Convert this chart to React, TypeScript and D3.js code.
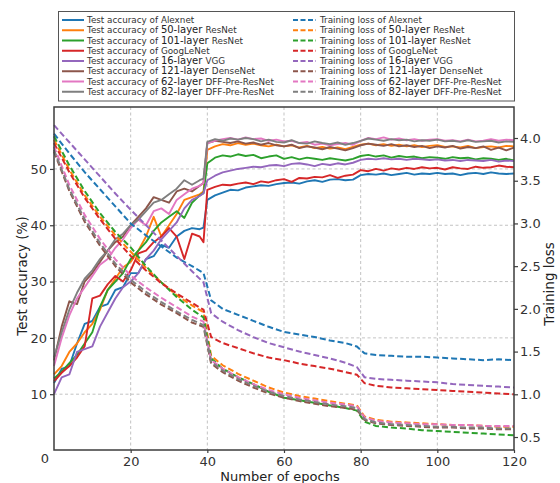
import React, { useEffect, useRef } from "react";
import * as d3 from "d3";

// model names are split so the "N-layer" part can be drawn a bit larger, like the original legend
const modelLayers = ["", "50-layer", "101-layer", "", "16-layer", "121-layer", "62-layer", "82-layer"];
const modelNames = ["Alexnet", "ResNet", "ResNet", "GoogLeNet", "VGG", "DenseNet", "DFF-Pre-ResNet", "DFF-Pre-ResNet"];
const colors = ["#1f77b4", "#ff7f0e", "#2ca02c", "#d62728", "#9467bd", "#8c564b", "#e377c2", "#7f7f7f"];

const xTicks = [20, 40, 60, 80, 100, 120];
const accTicks = [10, 20, 30, 40, 50];
const lossTicks = [0.5, 1.0, 1.5, 2.0, 2.5, 3.0, 3.5, 4.0];

const accEpochs = [...d3.range(0, 40, 2), 39, ...d3.range(40, 121, 2)];
const lossEpochs = [...d3.range(0, 40, 4), 39, 41, ...d3.range(44, 80, 4), 79, 81, ...d3.range(84, 121, 4)];

// test accuracy (%)
const accAlexnet = [12, 14.5, 15, 19, 22.5, 23, 25.5, 26, 28.5, 29, 31.5, 31.5, 34, 34.5, 36.5, 36, 38, 39, 39.5, 39.3, 39.6,
  44.5, 45.3, 45.8, 46.3, 46.2, 46.7, 46.9, 47.1, 47.0, 47.3,
  47.5, 47.6, 47.4, 47.8, 48.0, 47.7, 48.1, 48.2, 48.0, 48.1,
  48.9, 49.1, 49.0, 49.2, 48.9, 49.1, 49.3, 49.0, 49.2, 49.1,
  49.3, 49.1, 49.2, 48.9, 49.2, 49.3, 49.1, 49.4, 49.2, 49.1, 49.2];
const accResNet50 = [13.5, 15, 17.5, 19, 21, 22.5, 25, 28.5, 30.5, 32.5, 33.5, 35.5, 38, 41.5, 38, 40, 42, 44.5, 45, 45.5, 46,
  53.4, 54.0, 54.4, 54.2, 54.6, 54.3, 54.5, 54.2, 54.0, 54.3,
  54.0, 54.2, 53.8, 54.1, 53.7, 53.9, 53.6, 53.8, 53.5, 53.9,
  54.3, 54.5, 54.2, 54.4, 54.1, 54.3, 54.0, 54.2, 53.9, 54.1,
  54.2, 53.9, 54.0, 53.8, 54.1, 53.7, 53.9, 54.0, 53.8, 54.1, 54.0];
const accResNet101 = [12.8, 14, 15.5, 17, 19, 21, 25.5, 28.5, 30, 31.5, 34, 35.5, 37, 39, 40.5, 41.5, 42.5, 41.3, 44, 45.3, 45.7,
  51.0, 52.0, 52.4, 52.2, 52.6, 52.3, 52.5, 51.9, 52.2, 52.4,
  51.8, 52.1, 51.7, 52.0, 51.8, 51.6, 51.9, 51.7, 51.5, 51.8,
  52.3, 52.5, 52.2, 52.4, 52.0, 52.3, 52.1, 52.2, 51.9, 52.1,
  52.0, 51.8, 52.1, 51.9, 52.0, 51.7, 51.9, 51.8, 51.6, 51.8, 51.5];
const accGoogLeNet = [12.3, 13.8, 15, 16.5, 18.5, 27, 27.5, 29.5, 31, 30, 32, 35, 35.5, 37, 38, 39.5, 38, 34, 38.5, 38, 37,
  46.3, 46.8, 47.2, 47.1, 47.4, 47.6, 47.3, 47.8, 47.6, 48.0,
  48.2, 47.7, 48.4, 48.3, 48.6, 48.5, 48.9, 48.4, 48.8, 49.0,
  49.8, 49.6, 50.0, 49.7, 50.1, 49.9, 50.2, 50.0, 50.3, 50.1,
  50.2, 49.9, 50.3, 50.1, 50.0, 50.4, 50.2, 50.3, 50.6, 50.4, 50.3];
const accVGG = [10, 13, 13.5, 17.5, 18, 18.5, 22, 24.5, 27, 29, 30, 31.5, 34, 35.5, 37.5, 39, 40.5, 43, 44.5, 45.2, 45.7,
  48.0, 48.8, 49.4, 49.7, 50.0, 50.2, 50.4, 50.3, 50.6, 50.7,
  50.5, 50.9, 51.0, 50.8, 50.5, 50.9, 50.7, 51.0, 50.8, 51.1,
  51.6, 51.8, 51.7, 51.9, 51.7, 51.8, 51.6, 51.8, 51.7, 51.6,
  51.7, 51.5, 51.6, 51.4, 51.6, 51.5, 51.4, 51.6, 51.3, 51.5, 51.4];
const accDenseNet = [16, 22, 26.5, 26, 30, 31.5, 33.5, 35.5, 37, 38, 40, 41.5, 43, 45, 44.5, 44, 46, 46.5, 46, 47, 47.5,
  54.6, 55.0, 54.8, 54.6, 54.9, 54.5, 54.7, 54.3, 54.6, 54.2,
  54.0, 54.3, 53.7, 54.0, 53.8, 53.5, 53.9, 53.6, 53.3, 53.7,
  54.2, 54.5, 54.3, 54.1, 54.4, 54.0, 54.2, 53.9, 54.1, 53.7,
  54.0, 53.8, 54.1, 53.6, 53.9, 53.7, 54.0, 53.4, 53.8, 53.3, 53.8];
const accDff62 = [15, 20, 24, 27, 29, 31, 33, 34, 36, 37.5, 39.5, 41, 40, 42.5, 43, 42, 44.5, 45.5, 46.5, 47, 47.5,
  54.6, 55.0, 55.3, 55.5, 55.2, 55.6, 55.3, 55.4, 55.0, 55.2,
  54.9, 55.0, 54.6, 54.8, 54.3, 54.5, 54.2, 54.4, 54.6, 54.3,
  55.0, 55.5, 55.3, 55.6, 55.2, 55.4, 55.1, 55.3, 55.0, 55.2,
  55.3, 55.0, 55.1, 54.9, 55.2, 54.9, 55.0, 55.3, 55.0, 55.2, 55.1];
const accDff82 = [16.5, 21, 25, 28, 30.5, 32, 34, 35.5, 37.5, 38.5, 40, 41, 42.5, 44, 44.5, 45.5, 46.5, 48, 47.2, 48, 48.3,
  54.8, 55.3, 55.0, 55.4, 55.2, 55.5, 55.3, 54.9, 55.2, 54.8,
  54.7, 55.1, 54.6, 54.5, 54.9, 54.6, 54.4, 54.7, 54.3, 54.6,
  55.0, 55.4, 55.2, 55.0, 55.3, 55.1, 55.2, 54.9, 55.1, 55.0,
  55.2, 54.9, 55.0, 54.8, 55.1, 54.8, 54.9, 55.0, 54.7, 54.9, 54.8];

// training loss
const lossAlexnet = [4.05, 3.82, 3.6, 3.4, 3.2, 3.0, 2.86, 2.73, 2.6, 2.5, 2.42, 2.1,
  2.0, 1.93, 1.86, 1.79, 1.73, 1.7, 1.67, 1.63, 1.6, 1.56, 1.48,
  1.46, 1.45, 1.44, 1.44, 1.43, 1.42, 1.41, 1.40, 1.41, 1.40];
const lossResNet50 = [3.98, 3.63, 3.33, 3.08, 2.86, 2.67, 2.48, 2.31, 2.16, 2.04, 1.96, 1.45,
  1.34, 1.24, 1.16, 1.08, 1.02, 0.98, 0.95, 0.92, 0.89, 0.87, 0.74,
  0.7, 0.68, 0.67, 0.66, 0.65, 0.64, 0.64, 0.63, 0.62, 0.62];
const lossResNet101 = [4.02, 3.68, 3.38, 3.12, 2.9, 2.72, 2.5, 2.31, 2.14, 1.99, 1.9, 1.42,
  1.3, 1.2, 1.12, 1.03, 0.96, 0.93, 0.9, 0.87, 0.84, 0.81, 0.68,
  0.63, 0.61, 0.6, 0.58, 0.57, 0.56, 0.55, 0.54, 0.53, 0.52];
const lossGoogLeNet = [3.94, 3.6, 3.3, 3.05, 2.82, 2.62, 2.45, 2.3, 2.18, 2.07, 1.99, 1.67,
  1.6, 1.54, 1.48, 1.43, 1.4, 1.36, 1.33, 1.3, 1.26, 1.23, 1.13,
  1.1, 1.08, 1.07, 1.06, 1.05, 1.04, 1.03, 1.02, 1.01, 1.0];
const lossVGG = [4.15, 3.95, 3.75, 3.55, 3.35, 3.16, 2.98, 2.8, 2.62, 2.44, 2.31, 1.95,
  1.85, 1.75, 1.67, 1.6, 1.55, 1.5, 1.46, 1.42, 1.37, 1.32, 1.2,
  1.18, 1.17, 1.16, 1.15, 1.14, 1.12, 1.11, 1.10, 1.09, 1.08];
const lossDenseNet = [3.84, 3.38, 3.02, 2.74, 2.5, 2.31, 2.17, 2.05, 1.95, 1.84, 1.79, 1.36,
  1.26, 1.16, 1.08, 1.01, 0.96, 0.92, 0.89, 0.86, 0.84, 0.82, 0.7,
  0.66, 0.64, 0.63, 0.62, 0.61, 0.61, 0.6, 0.6, 0.59, 0.59];
const lossDff62 = [3.9, 3.45, 3.1, 2.82, 2.58, 2.39, 2.25, 2.13, 2.02, 1.91, 1.85, 1.4,
  1.3, 1.2, 1.12, 1.05, 1.0, 0.96, 0.93, 0.9, 0.88, 0.86, 0.73,
  0.69, 0.67, 0.66, 0.65, 0.65, 0.64, 0.64, 0.63, 0.63, 0.63];
const lossDff82 = [3.86, 3.4, 3.05, 2.77, 2.53, 2.34, 2.2, 2.08, 1.97, 1.87, 1.81, 1.38,
  1.28, 1.18, 1.1, 1.03, 0.98, 0.94, 0.91, 0.88, 0.86, 0.84, 0.71,
  0.67, 0.65, 0.64, 0.63, 0.62, 0.62, 0.61, 0.61, 0.6, 0.6];

const accSeries = [accAlexnet, accResNet50, accResNet101, accGoogLeNet, accVGG, accDenseNet, accDff62, accDff82];
const lossSeries = [lossAlexnet, lossResNet50, lossResNet101, lossGoogLeNet, lossVGG, lossDenseNet, lossDff62, lossDff82];

const FONT = "DejaVu Sans, sans-serif";

export default function App() {
  const svgRef = useRef<SVGSVGElement>(null);

  useEffect(() => {
    if (!svgRef.current) return;
    const svg = d3.select(svgRef.current);
    svg.selectAll("*").remove();

    const left = 54, right = 514, top = 107, bottom = 450;

    const x = d3.scaleLinear().domain([0, 120]).range([left, right]);
    const yAcc = d3.scaleLinear().domain([0, 61]).range([bottom + 0.5, top]);
    const yLoss = d3.scaleLinear().domain([0.348, 4.363]).range([bottom, top]);

    // grid
    const grid = svg.append("g")
      .attr("stroke", "#b4b4b4")
      .attr("stroke-width", 0.8)
      .attr("stroke-dasharray", "3,2.5");
    xTicks.filter((t) => t < 120).forEach((t) => {
      grid.append("line").attr("x1", x(t)).attr("x2", x(t)).attr("y1", top).attr("y2", bottom);
    });
    accTicks.forEach((t) => {
      grid.append("line").attr("x1", left).attr("x2", right).attr("y1", yAcc(t)).attr("y2", yAcc(t));
    });

    // test accuracy lines
    const accLine = d3.line<number>()
      .x((_, i) => x(accEpochs[i]))
      .y((d) => yAcc(d));
    accSeries.forEach((s, k) => {
      svg.append("path")
        .attr("d", accLine(s))
        .attr("fill", "none")
        .attr("stroke", colors[k])
        .attr("stroke-width", 1.9)
        .attr("stroke-linejoin", "round");
    });

    // training loss lines
    const lossLine = d3.line<number>()
      .x((_, i) => x(lossEpochs[i]))
      .y((d) => yLoss(d));
    lossSeries.forEach((s, k) => {
      svg.append("path")
        .attr("d", lossLine(s))
        .attr("fill", "none")
        .attr("stroke", colors[k])
        .attr("stroke-width", 2)
        .attr("stroke-dasharray", "6,3");
    });

    // frame
    svg.append("rect")
      .attr("x", left).attr("y", top)
      .attr("width", right - left).attr("height", bottom - top)
      .attr("fill", "none").attr("stroke", "#3c3c3c").attr("stroke-width", 1.5);

    const styleAxis = (g) => {
      g.select(".domain").remove();
      g.selectAll("line").attr("stroke", "#3c3c3c").attr("stroke-width", 1.2);
      g.selectAll("text")
        .attr("fill", "#333")
        .style("font-family", FONT)
        .style("font-size", "13px");
    };

    svg.append("g")
      .attr("transform", `translate(0,${bottom})`)
      .call(d3.axisBottom(x).tickValues(xTicks).tickSize(3).tickPadding(4))
      .call(styleAxis);

    svg.append("g")
      .attr("transform", `translate(${left},0)`)
      .call(d3.axisLeft(yAcc).tickValues(accTicks).tickSize(4).tickPadding(3))
      .call(styleAxis);

    svg.append("g")
      .attr("transform", `translate(${right},0)`)
      .call(d3.axisRight(yLoss).tickValues(lossTicks).tickSize(4).tickPadding(2)
        .tickFormat(d3.format(".1f")))
      .call(styleAxis);

    // lone "0" at the corner
    svg.append("text")
      .attr("x", 45).attr("y", 463)
      .attr("text-anchor", "middle")
      .attr("fill", "#333")
      .style("font-family", FONT).style("font-size", "13px")
      .text("0");

    // axis titles
    svg.append("text")
      .attr("x", 280).attr("y", 481)
      .attr("text-anchor", "middle")
      .attr("fill", "#222")
      .style("font-family", FONT).style("font-size", "13px")
      .text("Number of epochs");

    svg.append("text")
      .attr("transform", "translate(27,276) rotate(-90)")
      .attr("text-anchor", "middle")
      .attr("fill", "#222")
      .style("font-family", FONT).style("font-size", "13.5px")
      .text("Test accuracy (%)");

    svg.append("text")
      .attr("transform", "translate(554,284) rotate(-90)")
      .attr("text-anchor", "middle")
      .attr("fill", "#222")
      .style("font-family", FONT).style("font-size", "13.5px")
      .text("Training loss");

    // legend
    const legend = svg.append("g");
    legend.append("rect")
      .attr("x", 58.5).attr("y", 11.5)
      .attr("width", 456).attr("height", 89.5)
      .attr("fill", "#fff")
      .attr("stroke", "#555")
      .attr("stroke-width", 1);

    const rowY = (i) => 20 + i * 10.25;
    const addLabel = (lx, ly, prefix, i) => {
      const t = legend.append("text")
        .attr("x", lx).attr("y", ly + 3.2)
        .attr("fill", "#333")
        .style("font-family", FONT).style("font-size", "8.8px");
      t.append("tspan").text(prefix + " ");
      if (modelLayers[i]) {
        t.append("tspan").style("font-size", "10px").attr("fill", "#222").text(modelLayers[i] + " ");
      }
      t.append("tspan").text(modelNames[i]);
    };

    modelNames.forEach((_, i) => {
      const ly = rowY(i);
      legend.append("line")
        .attr("x1", 62).attr("x2", 84).attr("y1", ly).attr("y2", ly)
        .attr("stroke", colors[i]).attr("stroke-width", 2);
      addLabel(87, ly, "Test accuracy of", i);

      legend.append("line")
        .attr("x1", 293).attr("x2", 316).attr("y1", ly).attr("y2", ly)
        .attr("stroke", colors[i]).attr("stroke-width", 2)
        .attr("stroke-dasharray", "5,2.5");
      addLabel(320, ly, "Training loss of", i);
    });
  }, []);

  return (
    <svg
      ref={svgRef}
      width={560}
      height={483}
      style={{ position: "absolute", left: 0, top: 0, background: "#fff", display: "block" }}
    />
  );
}
